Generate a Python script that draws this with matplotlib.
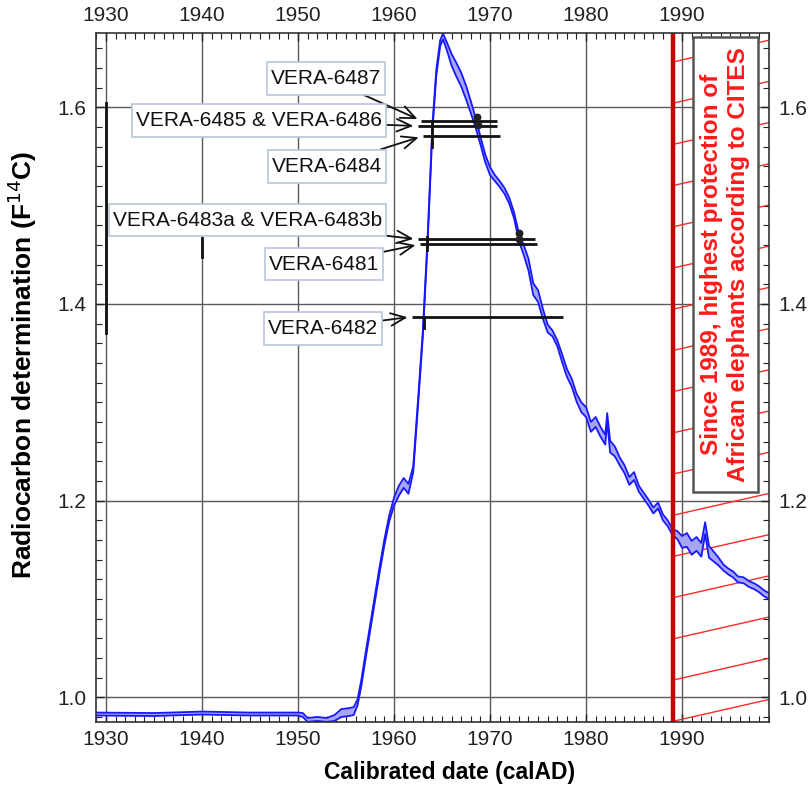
import numpy as np
import matplotlib
matplotlib.use("Agg")
import matplotlib.pyplot as plt
from matplotlib.path import Path
from matplotlib.ticker import MultipleLocator

plt.rcParams['font.family'] = ['Liberation Sans', 'DejaVu Sans']

# ---------------- data ----------------
years = [1929, 1935, 1940, 1945, 1950, 1950.5, 1951, 1952, 1953, 1953.8, 1954.5,
         1955.3, 1955.8, 1956.2, 1956.6, 1957, 1957.5, 1958, 1958.5, 1959, 1959.5,
         1960, 1960.5, 1961, 1961.5, 1962, 1962.5, 1963, 1963.5, 1964, 1964.4,
         1964.8, 1965.1, 1965.5, 1966, 1966.5, 1967, 1967.5, 1968, 1968.5, 1969,
         1969.5, 1970, 1970.5, 1971, 1971.5, 1972, 1972.5, 1973, 1973.5, 1974,
         1974.5, 1975, 1975.5, 1976, 1976.5, 1977, 1977.5, 1978, 1978.5, 1979,
         1979.5, 1980, 1980.5, 1981, 1981.5, 1982, 1982.2, 1982.5, 1983, 1983.5,
         1984, 1984.5, 1985, 1985.5, 1986, 1986.5, 1987, 1987.5, 1988, 1988.5,
         1989, 1989.5, 1990, 1990.5, 1991, 1991.5, 1992, 1992.4, 1992.8, 1993.3,
         1993.8, 1994.3, 1994.8, 1995.3, 1995.8, 1996.4, 1997, 1997.5, 1998,
         1998.5, 1999.2]
f14c_mid = [0.983, 0.9825, 0.984, 0.983, 0.983, 0.982, 0.977, 0.978, 0.977, 0.979,
            0.984, 0.985, 0.986, 0.995, 1.015, 1.040, 1.070, 1.100, 1.130, 1.158,
            1.182, 1.199, 1.210, 1.218, 1.212, 1.232, 1.300, 1.370, 1.466, 1.580,
            1.635, 1.665, 1.672, 1.662, 1.648, 1.638, 1.628, 1.615, 1.600, 1.584,
            1.566, 1.548, 1.535, 1.528, 1.522, 1.515, 1.505, 1.490, 1.468, 1.455,
            1.440, 1.415, 1.408, 1.390, 1.375, 1.370, 1.360, 1.345, 1.330, 1.320,
            1.305, 1.295, 1.290, 1.275, 1.280, 1.270, 1.262, 1.285, 1.255, 1.250,
            1.240, 1.232, 1.220, 1.225, 1.212, 1.205, 1.198, 1.190, 1.195, 1.183,
            1.177, 1.168, 1.165, 1.158, 1.160, 1.152, 1.156, 1.150, 1.172, 1.148,
            1.143, 1.138, 1.132, 1.128, 1.125, 1.120, 1.119, 1.115, 1.113, 1.110,
            1.106, 1.102]
f14c_half = [0.0015, 0.0015, 0.0015, 0.0015, 0.0015, 0.002, 0.002, 0.002, 0.002, 0.003,
             0.004, 0.004, 0.004, 0.003, 0.003, 0.003, 0.003, 0.003, 0.003, 0.003,
             0.003, 0.004, 0.005, 0.005, 0.005, 0.003, 0.003, 0.003, 0.003, 0.003,
             0.003, 0.003, 0.003, 0.004, 0.006, 0.007, 0.007, 0.007, 0.006, 0.005,
             0.004, 0.004, 0.004, 0.003, 0.003, 0.003, 0.003, 0.003, 0.004, 0.005,
             0.006, 0.006, 0.006, 0.005, 0.004, 0.003, 0.003, 0.004, 0.004, 0.004,
             0.004, 0.005, 0.005, 0.005, 0.005, 0.005, 0.005, 0.004, 0.006, 0.005,
             0.004, 0.004, 0.004, 0.004, 0.003, 0.003, 0.003, 0.003, 0.003, 0.003,
             0.003, 0.003, 0.004, 0.006, 0.007, 0.007, 0.007, 0.007, 0.006, 0.006,
             0.005, 0.004, 0.003, 0.003, 0.003, 0.003, 0.003, 0.003, 0.003, 0.003,
             0.003, 0.003]

sample_labels = ["VERA-6487", "VERA-6485 & VERA-6486", "VERA-6484",
                 "VERA-6483a & VERA-6483b", "VERA-6481", "VERA-6482"]
sample_f14c = [1.5863, 1.5809, 1.5707, 1.4657, 1.4606, 1.3870]
range_start = [1962.85, 1962.46, 1962.99, 1962.46, 1962.67, 1961.84]
range_end = [1970.68, 1970.71, 1971.02, 1974.68, 1974.89, 1977.60]

# small probability marks (vertical bars) at the curve intersections
mark_x = [1963.96, 1963.47, 1963.15, 1930.0, 1940.05]
mark_y0 = [1.5600, 1.4550, 1.3760, 1.3704, 1.4480]
mark_y1 = [1.5863, 1.4680, 1.3870, 1.6043, 1.4667]
blob_x = [1968.6, 1968.7, 1973.0, 1973.05]
blob_y = [1.590, 1.582, 1.472, 1.466]

x_ticks = [1930, 1940, 1950, 1960, 1970, 1980, 1990]
y_ticks = [1.0, 1.2, 1.4, 1.6]
cites_year = 1989
cites_text = "Since 1989, highest protection of\nAfrican elephants according to CITES"

# ---------------- figure ----------------
fig = plt.figure(figsize=(8.09, 7.9), dpi=100)
ax = fig.add_axes([96 / 809, 1 - 722 / 790, 673 / 809, 689 / 790])
ax.set_xlim(1928.96, 1999.05)
ax.set_ylim(0.9749, 1.6755)

yrs = np.array(years)
mid = np.array(f14c_mid)
half = np.array(f14c_half)

# hatched CITES area
hatch_slope = 0.00222
hatch_step = 0.0419
for b in np.arange(0.9755 - hatch_step, 1.70, hatch_step):
    xs = np.array([cites_year, 2000])
    ax.plot(xs, b + hatch_slope * (xs - cites_year), color='#ff2a2a', lw=1.0, zorder=2)
ax.axvline(cites_year, color='#c80000', lw=3.2, zorder=6)

# calibration curve band
ax.fill_between(yrs, mid - half, mid + half, color='#a6a6f2', lw=0, zorder=3)
ax.plot(yrs, mid + half, color='#1818ff', lw=1.3, zorder=4)
ax.plot(yrs, mid - half, color='#1818ff', lw=1.3, zorder=4)

# calibrated ranges
for y, a, b in zip(sample_f14c, range_start, range_end):
    ax.plot([a, b], [y, y], color='#111111', lw=2.0, zorder=5, solid_capstyle='butt')
for x, y0, y1 in zip(mark_x, mark_y0, mark_y1):
    ax.plot([x, x], [y0, y1], color='#111111', lw=2.0, zorder=5)
ax.scatter(blob_x, blob_y, s=32, marker='o', color='#222222', zorder=5, lw=0)


def make_box(pad_along, pad_across):
    def box(x0, y0, width, height, mutation_size):
        px = pad_along * mutation_size
        py = pad_across * mutation_size
        x0 -= px
        y0 -= py
        x1 = x0 + width + 2 * px
        y1 = y0 + height + 2 * py
        return Path([(x0, y0), (x1, y0), (x1, y1), (x0, y1), (x0, y0)], closed=True)
    return box


label_x = [1958.67, 1958.77, 1958.77, 1958.77, 1958.43, 1958.36]
label_y = [1.6296, 1.5869, 1.5400, 1.4853, 1.4405, 1.3753]
for lab, y, a, lx, ly in zip(sample_labels, sample_f14c, range_start, label_x, label_y):
    ax.annotate(lab, xy=(a, y), xytext=(lx, ly), textcoords='data',
                ha='right', va='center', fontsize=15, color='#111111', zorder=7,
                bbox=dict(boxstyle=make_box(0.2, 0.33), fc='white', ec='#b9c5d9', lw=1.2),
                arrowprops=dict(arrowstyle='->,head_length=0.7,head_width=0.3',
                                color='#111111', lw=1.3, shrinkA=0, shrinkB=3))

ax.text(1994.5, 1.440, cites_text, rotation=90, ha='center', va='center',
        fontsize=17.5, fontweight='bold', color='#ff1a1a', linespacing=1.22, zorder=7,
        bbox=dict(boxstyle=make_box(0.4, 0.3), fc='white', ec='#555555', lw=1.8))

# axes styling
ax.set_xticks(x_ticks)
ax.set_yticks(y_ticks)
ax.set_yticklabels([f"{v:.1f}" for v in y_ticks])
ax.xaxis.set_minor_locator(MultipleLocator(1))
ax.yaxis.set_minor_locator(MultipleLocator(0.02))
ax.grid(True, which='major', color='#5a5a5a', lw=1.0, zorder=1)
ax.set_axisbelow(True)
ax.tick_params(which='both', direction='in', top=True, right=True,
               labeltop=True, labelright=True, labelsize=15, colors='#222222')
ax.tick_params(which='major', length=6, width=1.0)
ax.tick_params(which='minor', length=4, width=0.8)
ax.tick_params(axis='x', which='major', pad=6)
ax.tick_params(axis='y', which='major', pad=7)
for side in ['left', 'right', 'top', 'bottom']:
    ax.spines[side].set_color('#333333')
    ax.spines[side].set_linewidth(1.2)
    ax.spines[side].set_zorder(8)

fig.text(22 / 809, 1 - 365 / 790, "Radiocarbon determination (F$^{14}$C)",
         rotation=90, ha='center', va='center', fontsize=19, fontweight='bold')
fig.text(450 / 809, 1 - 773 / 790, "Calibrated date (calAD)",
         ha='center', va='center', fontsize=16.5, fontweight='bold')

fig.savefig("out.png", dpi=100)
